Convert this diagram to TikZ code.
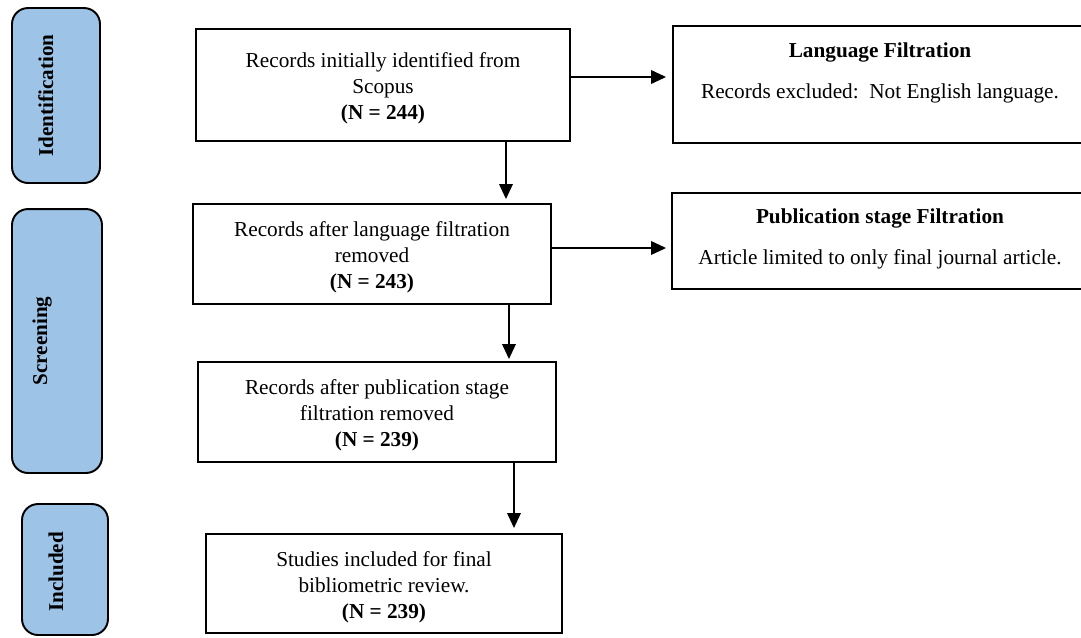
\documentclass[tikz,border=0pt]{standalone}
\usepackage{fontspec}
\setmainfont{Liberation Serif}
\usetikzlibrary{arrows.meta}
\definecolor{phaseblue}{RGB}{157,195,230}
\newcommand\toplift{\rule{0pt}{12.4pt}}
\tikzset{
  txt/.style={font=\fontsize{12.1}{14.8}\selectfont},
  mainbox/.style={draw=black, line width=1.1pt, fill=white, align=center, inner sep=2pt, txt},
  sidebox/.style={draw=black, line width=1.1pt, fill=white},
  phase/.style={draw=black, line width=1.1pt, fill=phaseblue, rounded corners=0.32cm},
  phasetxt/.style={font=\fontsize{12}{14}\selectfont\bfseries, rotate=90, anchor=base},
  arr/.style={line width=1.1pt, -{Triangle[length=0.3cm, width=0.27cm]}}
}
\begin{document}
\begin{tikzpicture}[x=0.02cm, y=-0.02cm]
\useasboundingbox (0,0) rectangle (1081,637);
\clip (0,0) rectangle (1081,637);
% phase boxes
\node[phase, minimum width=1.76cm, minimum height=3.5cm] (pid) at (56,95.5) {};
\node[phase, minimum width=1.8cm, minimum height=5.28cm] (psc) at (57,341) {};
\node[phase, minimum width=1.72cm, minimum height=2.62cm] (pin) at (65,569.5) {};
\node[phasetxt] (pidt) at (53,95.5) {Identification};
\node[phasetxt] (psct) at (47,341) {Screening};
\node[phasetxt] (pint) at (63,572) {Included};
% main boxes
\node[mainbox, minimum width=7.48cm, minimum height=2.24cm] (b1) at (383,85)
  {\toplift Records initially identified from\\Scopus\\\textbf{(N = 244)}};
\node[mainbox, minimum width=7.16cm, minimum height=2.0cm] (b2) at (372,254)
  {\toplift Records after language filtration\\removed\\\textbf{(N = 243)}};
\node[mainbox, minimum width=7.16cm, minimum height=2.0cm] (b3) at (377,412)
  {\toplift Records after publication stage\\filtration removed\\\textbf{(N = 239)}};
\node[mainbox, minimum width=7.12cm, minimum height=1.98cm] (b4) at (384,583.5)
  {\toplift Studies included for final\\bibliometric review.\\\textbf{(N = 239)}};
% side boxes
\node[sidebox, minimum width=8.28cm, minimum height=2.34cm] (lang) at (880,84.5) {};
\node[sidebox, minimum width=8.32cm, minimum height=1.92cm] (pub) at (880,241) {};
\node[txt, anchor=base] (langh) at (880,57) {\textbf{Language Filtration}};
\node[txt, anchor=base] (langb) at (880,98) {Records excluded:\ \ Not English language.};
\node[txt, anchor=base] (pubh) at (880,223) {\textbf{Publication stage Filtration}};
\node[txt, anchor=base] (pubb) at (880,264) {Article limited to only final journal article.};
% arrows
\draw[arr, shorten >=0.08cm] ([xshift=2.46cm]b1.south) -- ([xshift=2.46cm]b1.south |- b2.north);
\draw[arr, shorten >=0.04cm] ([xshift=2.74cm]b2.south) -- ([xshift=2.74cm]b2.south |- b3.north);
\draw[arr, shorten >=0.1cm] ([xshift=2.74cm]b3.south) -- ([xshift=2.74cm]b3.south |- b4.north);
\draw[arr, shorten >=0.12cm] ([yshift=0.16cm]b1.east) -- ([yshift=0.16cm]b1.east -| lang.west);
\draw[arr, shorten >=0.1cm] ([yshift=0.12cm]b2.east) -- ([yshift=0.12cm]b2.east -| pub.west);
\end{tikzpicture}
\end{document}
